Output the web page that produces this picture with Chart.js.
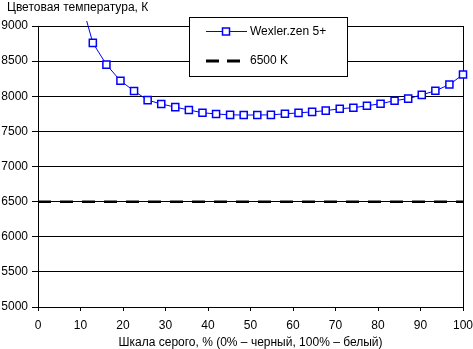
<!DOCTYPE html>
<html>
<head>
<meta charset="utf-8">
<script src="https://cdn.jsdelivr.net/npm/chart.js@4"></script>
<style>
  html, body { margin: 0; padding: 0; background: #fff; }
  canvas { display: block; }
</style>
</head>
<body>
<canvas id="chart" width="473" height="349"></canvas>
<script>
// grey level, % (32 steps, first ones are off the top of the chart)
const greyLevels = [9.7, 12.9, 16.1, 19.4, 22.6, 25.8, 29.0, 32.3, 35.5, 38.7,
    41.9, 45.2, 48.4, 51.6, 54.8, 58.1, 61.3, 64.5, 67.7, 71.0,
    74.2, 77.4, 80.6, 83.9, 87.1, 90.3, 93.5, 96.8, 100];
const wexlerTemps = [9450, 8760, 8450, 8220, 8075, 7945, 7890, 7845, 7805, 7765,
    7748, 7735, 7733, 7733, 7735, 7750, 7763, 7778, 7795, 7822,
    7837, 7864, 7894, 7937, 7966, 8020, 8078, 8166, 8309];
const refX = [0, 100];
const refTemps = [6500, 6500];
const seriesNames = ['Wexler.zen 5+', '6500 K'];
const yTitle = 'Цветовая температура, К';
const xTitle = 'Шкала серого, % (0% – черный, 100% – белый)';

const FONT = '"Liberation Sans", Arial, sans-serif';
const BLUE = '#0000ff';

// legend box and y-axis caption, drawn like the original (box over the grid)
const extras = {
    id: 'extras',
    afterDraw(chart) {
        const c = chart.ctx;
        c.save();
        c.font = '12px ' + FONT;
        c.fillStyle = '#000';
        c.textBaseline = 'alphabetic';
        c.textAlign = 'left';
        c.fillText(yTitle, 7, 11);

        // legend
        c.fillStyle = '#fff';
        c.fillRect(189.5, 17.5, 158, 59);
        c.strokeStyle = '#000';
        c.lineWidth = 1;
        c.strokeRect(189.5, 17.5, 158, 59);

        c.strokeStyle = BLUE;
        c.beginPath();
        c.moveTo(206, 31.5);
        c.lineTo(247, 31.5);
        c.stroke();
        c.fillStyle = '#fff';
        c.lineWidth = 1.5;
        c.fillRect(222.5, 28, 7, 7);
        c.strokeRect(222.5, 28, 7, 7);

        c.strokeStyle = '#000';
        c.lineWidth = 3;
        c.setLineDash([13, 8]);
        c.beginPath();
        c.moveTo(206, 61);
        c.lineTo(240, 61);
        c.stroke();
        c.setLineDash([]);

        c.fillStyle = '#000';
        c.textBaseline = 'middle';
        c.fillText(seriesNames[0], 250, 32);
        c.fillText(seriesNames[1], 250, 61);
        c.restore();
    }
};

new Chart(document.getElementById('chart'), {
    type: 'line',
    data: {
        datasets: [{
            label: seriesNames[0],
            data: greyLevels.map((x, i) => ({ x: x, y: wexlerTemps[i] })),
            borderColor: BLUE,
            borderWidth: 1,
            backgroundColor: '#fff',
            pointStyle: 'rect',
            pointRadius: 5,
            pointBorderWidth: 1.5,
            pointBorderColor: BLUE,
            pointBackgroundColor: '#fff',
            tension: 0,
            clip: { left: 5, top: 5, right: 10, bottom: 5 }
        }, {
            label: seriesNames[1],
            data: refX.map((x, i) => ({ x: x, y: refTemps[i] })),
            borderColor: '#000',
            borderWidth: 2.5,
            borderDash: [13, 9],
            pointRadius: 0,
            tension: 0
        }]
    },
    options: {
        responsive: false,
        animation: false,
        devicePixelRatio: 1,
        layout: { padding: { top: 26, right: 10, left: 0, bottom: 0 } },
        plugins: {
            legend: { display: false },
            tooltip: { enabled: false }
        },
        scales: {
            x: {
                type: 'linear',
                min: 0,
                max: 100,
                afterFit: s => { s.height = 42; s.paddingLeft = 0; s.paddingRight = 0; },
                ticks: { stepSize: 10, color: '#000', font: { family: FONT, size: 12 }, padding: 7, maxRotation: 0 },
                grid: {
                    color: ctx => (ctx.tick && ctx.tick.value === 100) ? '#000' : 'rgba(0,0,0,0)',
                    tickColor: '#000',
                    tickLength: 4,
                    lineWidth: 1
                },
                border: { color: '#000', width: 1 },
                title: {
                    display: true,
                    text: xTitle,
                    color: '#000',
                    font: { family: FONT, size: 12 },
                    padding: { top: 0, bottom: -1 }
                }
            },
            y: {
                min: 5000,
                max: 9000,
                afterFit: s => { s.width = 38; s.paddingTop = 0; s.paddingBottom = 0; },
                ticks: {
                    stepSize: 500,
                    color: '#000',
                    font: { family: FONT, size: 12 },
                    padding: 4,
                    callback: v => String(v)
                },
                grid: { color: '#000', tickColor: '#000', tickLength: 6, lineWidth: 1 },
                border: { color: '#000', width: 1 }
            }
        }
    },
    plugins: [extras]
});
</script>
</body>
</html>
